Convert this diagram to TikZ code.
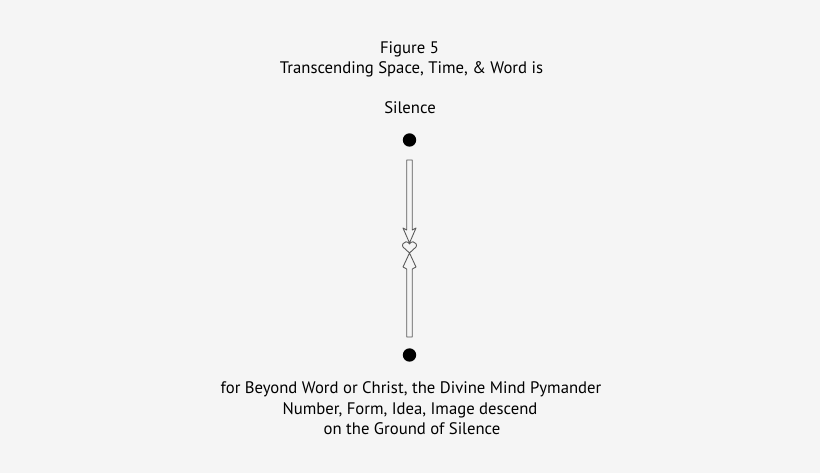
\documentclass[tikz,border=0pt]{standalone}
\usepackage{fontspec}
\setmainfont{PT Sans}
\usepackage{tikz}
\usetikzlibrary{calc}
\definecolor{bgcol}{RGB}{245,245,245}
\tikzset{caption/.style={anchor=base,font=\fontsize{9.5}{11}\selectfont,inner sep=0pt},
  hollow/.style={line width=0.5pt,draw=black!65,line join=round}}

\begin{document}
\begin{tikzpicture}[scale=0.2]
\fill[bgcol](0,0)rectangle(82,47.3);
\useasboundingbox(0,0)rectangle(82,47.3);
% points
\coordinate(T)at(40.95,33.3);
\coordinate(B)at(40.95,11.8);
\coordinate(X)at(40.95,22.0);
\node[caption](fig)at(40.95,41.97){Figure 5};
\node[caption](ttl)at(41.15,39.97){Transcending Space, Time, \& Word is};
\node[caption](sil)at(41.0,35.9){Silence};
\node[caption](l1)at(41.1,7.97){for Beyond Word or Christ, the Divine Mind Pymander};
\node[caption](l2)at(41.0,5.8){Number, Form, Idea, Image descend};
\node[caption](l3)at(41.2,3.8){on the Ground of Silence};
% arrow down
\draw[hollow]($(T)+(-0.28,-2)$)--($(T)+(-0.28,-9.0)$)--($(T)+(-0.65,-8.8)$)
  --($(X)+(0,1.0)$)--($(T)+(0.65,-8.8)$)--($(T)+(0.28,-9.0)$)--($(T)+(0.28,-2)$)--cycle;
% arrow up, crossed into the heart
\draw[hollow]($(B)+(-0.28,1.8)$)--($(B)+(-0.28,8.6)$)--($(B)+(-0.65,8.8)$)--(X)
  --($(X)+(0.65,0.6)$)..controls($(X)+(0.8,0.8)$)and($(X)+(0.6,1.12)$)..($(X)+(0.35,1.12)$)
  ..controls($(X)+(0.15,1.12)$)and($(X)+(0.05,1.0)$)..($(X)+(0,0.9)$)
  ..controls($(X)+(-0.05,1.0)$)and($(X)+(-0.15,1.12)$)..($(X)+(-0.35,1.12)$)
  ..controls($(X)+(-0.6,1.12)$)and($(X)+(-0.8,0.8)$)..($(X)+(-0.65,0.6)$)
  --(X)--($(B)+(0.65,8.8)$)--($(B)+(0.28,8.6)$)--($(B)+(0.28,1.8)$)--cycle;
\fill(T)circle(0.67);
\fill(B)circle(0.67);
\end{tikzpicture}
\end{document}
